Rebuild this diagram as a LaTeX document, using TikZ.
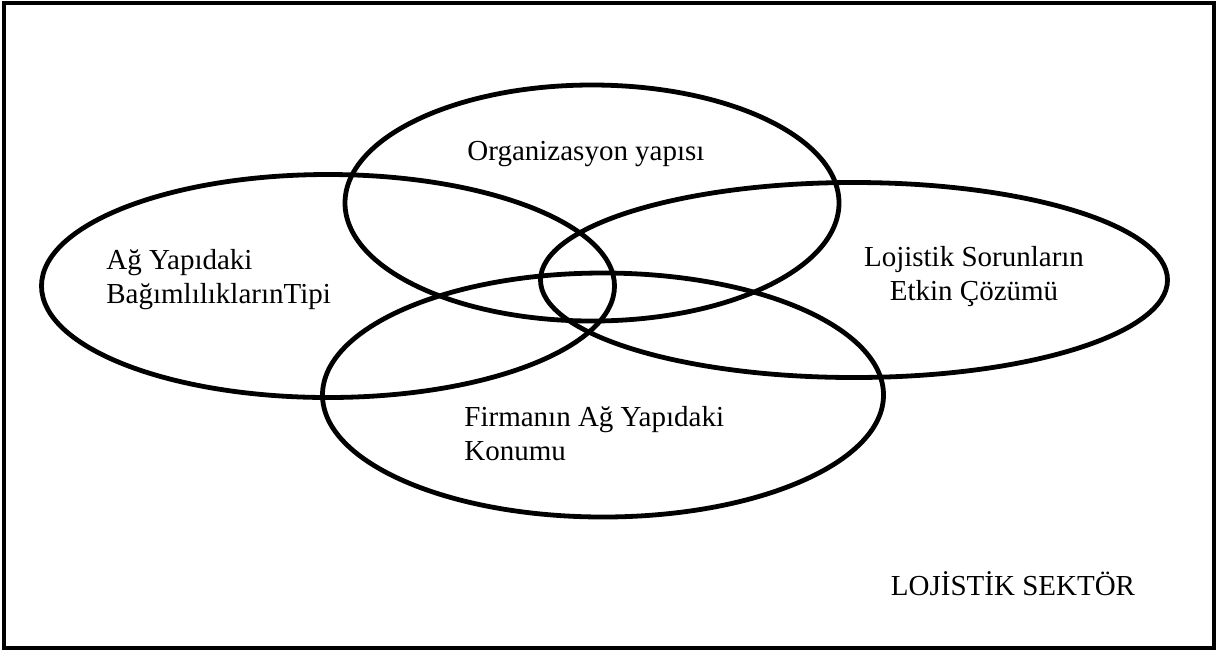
\documentclass[tikz,border=0pt]{standalone}
\usepackage{fontspec}
\setmainfont{Liberation Serif}
\usetikzlibrary{shapes.geometric}
\tikzset{
  venn/.style={draw,ellipse,line width=2.4pt,inner sep=0pt},
  lbl/.style={font=\rmfamily\fontsize{14.5}{17}\selectfont,inner sep=0pt},
}

\begin{document}
\begin{tikzpicture}[x=0.5pt,y=-0.5pt]
  \useasboundingbox (0,0) rectangle (1219,655);
  \draw[line width=2pt] (4,3) rectangle (1214,648);
%
  \node[venn,minimum width=247pt,minimum height=118pt] (org) at (592,203) {};
  \node[venn,minimum width=286.5pt,minimum height=111.5pt] (bag) at (328,286) {};
  \node[venn,minimum width=313.5pt,minimum height=97.5pt] (coz) at (854,280) {};
  \node[venn,minimum width=280.5pt,minimum height=122pt] (kon) at (603,395) {};
%
  \path (org)++(-6,-43) node[lbl,anchor=base] (orgtxt) {Organizasyon yapısı};
  \path (bag)++(-222,17) node[lbl,anchor=base west,align=left] (bagtxt)
     {Ağ Yapıdaki\\BağımlılıklarınTipi};
  \path (coz)++(120,20) node[lbl,anchor=base,align=center] (coztxt)
     {Lojistik Sorunların\\Etkin Çözümü};
  \path (kon)++(-139,65) node[lbl,anchor=base west,align=left] (kontxt)
     {Firmanın Ağ Yapıdaki\\Konumu};
%
  \node[lbl,anchor=base] (sektor) at (1013,595) {LOJİSTİK SEKTÖR};
\end{tikzpicture}
\end{document}
